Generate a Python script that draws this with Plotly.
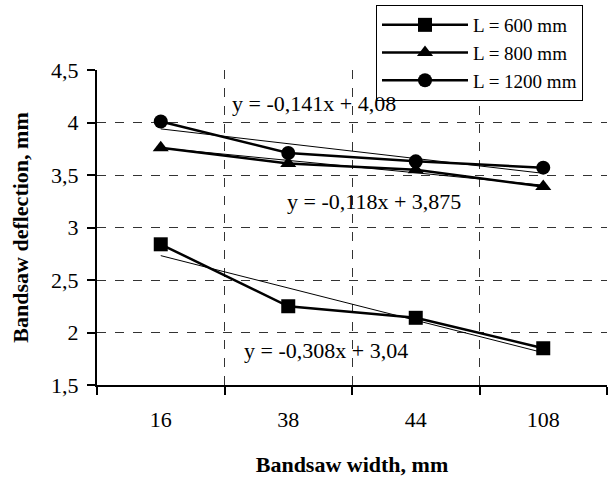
import plotly.graph_objects as go

widths = ["16", "38", "44", "108"]
series_names = ["L = 600 mm", "L = 800 mm", "L = 1200 mm"]
defl_600 = [2.84, 2.25, 2.14, 1.85]
defl_800 = [3.76, 3.61, 3.55, 3.39]
defl_1200 = [4.01, 3.71, 3.63, 3.57]
symbols = ["square", "triangle-up", "circle"]
trend_slopes = [-0.308, -0.118, -0.141]
trend_intercepts = [3.04, 3.875, 4.08]
trend_labels = ["y = -0,308x + 3,04", "y = -0,118x + 3,875", "y = -0,141x + 4,08"]
label_pos = [(0.635, 1.83), (0.975, 3.25), (0.543, 4.18)]

FONT = "Liberation Serif"
fig = go.Figure()
data = [defl_600, defl_800, defl_1200]
idx = list(range(1, len(widths) + 1))
for name, ys, sym, a, b in zip(series_names, data, symbols, trend_slopes, trend_intercepts):
    fig.add_trace(go.Scatter(
        x=widths, y=[a * i + b for i in idx], mode="lines",
        line=dict(color="black", width=1), showlegend=False, hoverinfo="skip"))
for name, ys, sym in zip(series_names, data, symbols):
    fig.add_trace(go.Scatter(
        x=widths, y=ys, mode="lines+markers", name=name,
        line=dict(color="black", width=2.5),
        marker=dict(symbol=sym, size=14, color="black")))

for txt, (xp, yp) in zip(trend_labels, label_pos):
    fig.add_annotation(x=xp, y=yp, text=txt, showarrow=False, xanchor="left",
                       yanchor="middle", font=dict(family=FONT, size=22, color="black"))

fig.update_layout(
    width=608, height=477,
    margin=dict(l=97, r=1, t=70, b=92, autoexpand=False),
    paper_bgcolor="white", plot_bgcolor="white",
    separators=",.",
    font=dict(family=FONT, size=22, color="black"),
    legend=dict(x=376 / 608, y=1 - 5 / 477, xref="container", yref="container",
                xanchor="left", yanchor="top",
                bgcolor="white", bordercolor="black", borderwidth=1,
                font=dict(family=FONT, size=19), tracegroupgap=0,
                itemwidth=86),
    xaxis=dict(type="category", range=[-0.5, 3.5], tickson="boundaries",
               automargin=False,
               showline=True, linecolor="black", linewidth=2,
               ticks="outside", ticklen=8, tickwidth=2, tickcolor="black",
               showgrid=True, gridcolor="#333", griddash="dash", gridwidth=1,
               ticklabelstandoff=14,
               title=dict(text="<b>Bandsaw width, mm</b>", standoff=26,
                          font=dict(family=FONT, size=22)),
               zeroline=False),
    yaxis=dict(range=[1.5, 4.5], dtick=0.5, tick0=1.5,
               automargin=False,
               showline=True, linecolor="black", linewidth=2,
               ticks="outside", ticklen=8, tickwidth=2, tickcolor="black",
               showgrid=True, gridcolor="#333", griddash="dash", gridwidth=1,
               ticklabelstandoff=4,
               title=dict(text="<b>Bandsaw deflection, mm</b>", standoff=16,
                          font=dict(family=FONT, size=22)),
               zeroline=False),
)
fig.write_html("out.html", config={"displayModeBar": False},
               post_script="document.body.style.margin='0';")
